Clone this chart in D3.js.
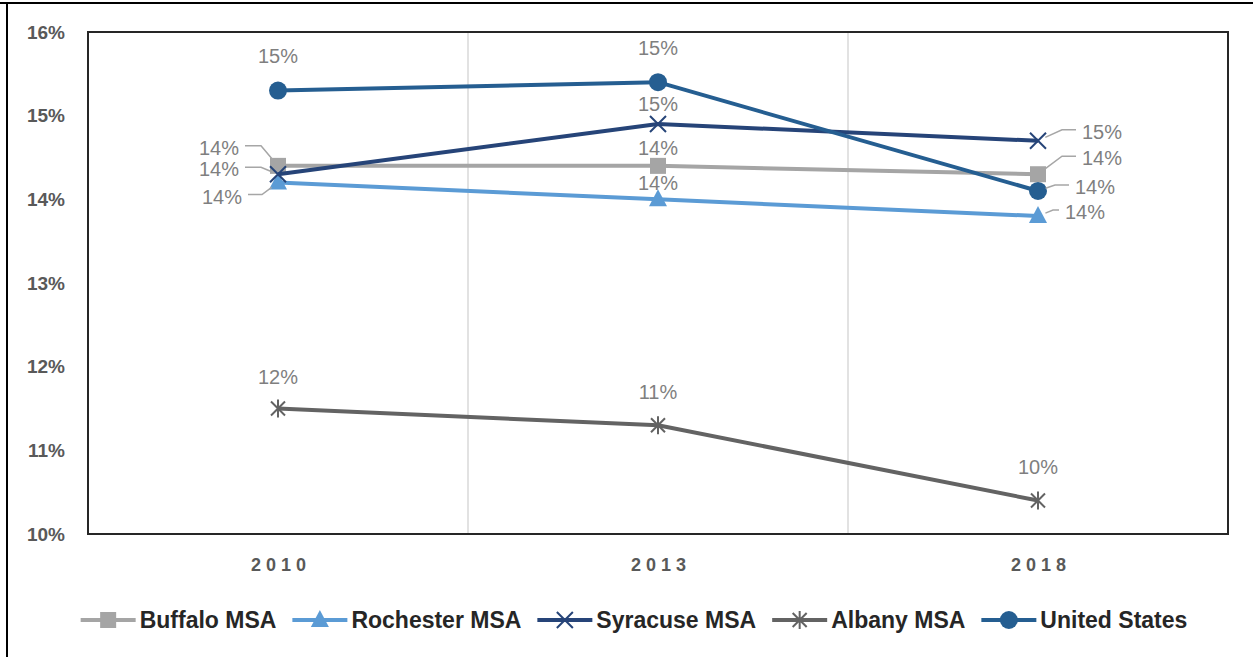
<!DOCTYPE html>
<html>
<head>
<meta charset="utf-8">
<script src="https://cdn.jsdelivr.net/npm/d3@7"></script>
<style>
  body { margin: 0; background: #fff; }
  svg { display: block; font-family: "Liberation Sans", Arial, sans-serif; }
</style>
</head>
<body>
<svg id="chart" width="1253" height="657"></svg>
<script>
// values (percent)
var years = ["2010", "2013", "2018"];
var buffalo = [14.4, 14.4, 14.3];
var rochester = [14.2, 14.0, 13.8];
var syracuse = [14.3, 14.9, 14.7];
var albany = [11.5, 11.3, 10.4];
var unitedStates = [15.3, 15.4, 14.1];
var yTicks = [10, 11, 12, 13, 14, 15, 16];
var seriesNames = ["Buffalo MSA", "Rochester MSA", "Syracuse MSA", "Albany MSA", "United States"];

// label placement per point: [dx, dy, side, leader length]
var labelPos = {
    "Buffalo MSA":   [[-39, -18, "L", 16], [0, -18, "", 0], [44, -16, "R", 14]],
    "Rochester MSA": [[-36, 14, "L", 14], [0, -16, "", 0], [27, -4, "R", 6]],
    "Syracuse MSA":  [[-39, -5, "L", 16], [0, -20, "", 0], [44, -9, "R", 14]],
    "Albany MSA":    [[0, -32, "", 0], [0, -33, "", 0], [0, -34, "", 0]],
    "United States": [[0, -35, "", 0], [0, -34, "", 0], [37, -4, "R", 14]]
};

var series = [
    {name: seriesNames[0], values: buffalo, color: "#a5a5a5", marker: "square"},
    {name: seriesNames[1], values: rochester, color: "#5b9bd5", marker: "triangle"},
    {name: seriesNames[2], values: syracuse, color: "#264478", marker: "x"},
    {name: seriesNames[3], values: albany, color: "#636363", marker: "star"},
    {name: seriesNames[4], values: unitedStates, color: "#255e91", marker: "circle"}
];

var margin = {top: 32, right: 25, bottom: 123, left: 88},
    width = 1253 - margin.left - margin.right,
    height = 657 - margin.top - margin.bottom;

var root = d3.select("#chart");

// outer frame (top + left edge)
root.append("line").attr("x1", 0).attr("x2", 1253).attr("y1", 3).attr("y2", 3)
    .style("stroke", "#000").style("stroke-width", 2);
root.append("line").attr("x1", 7).attr("x2", 7).attr("y1", 3).attr("y2", 657)
    .style("stroke", "#000").style("stroke-width", 2);

var svg = root.append("g")
    .attr("transform", "translate(" + margin.left + "," + margin.top + ")");

var x = d3.scaleBand().domain(years).range([0, width]);
var y = d3.scaleLinear().domain([10, 16]).range([height, 0]);

// vertical gridlines between categories
svg.selectAll(".grid")
    .data(years.slice(1))
    .enter()
    .append("line")
    .attr("x1", d => x(d)).attr("x2", d => x(d))
    .attr("y1", 0).attr("y2", height)
    .style("stroke", "#d9d9d9").style("stroke-width", 1.5);

// plot border
svg.append("rect")
    .attr("width", width).attr("height", height)
    .style("fill", "none").style("stroke", "#262626").style("stroke-width", 2);

// y axis
var yAxis = svg.append("g")
    .call(d3.axisLeft(y).tickValues(yTicks).tickSize(0).tickPadding(23).tickFormat(d => d + "%"));
yAxis.select(".domain").remove();
yAxis.selectAll("text")
    .style("font-size", "19px").style("font-weight", "bold").style("fill", "#595959")
    .style("font-family", "'Liberation Sans', Arial, sans-serif");

// x axis
var xAxis = svg.append("g")
    .attr("transform", "translate(0," + height + ")")
    .call(d3.axisBottom(x).tickSize(0).tickPadding(24));
xAxis.select(".domain").remove();
xAxis.selectAll("text")
    .attr("dx", "3px")
    .style("font-size", "18px").style("font-weight", "bold").style("fill", "#595959")
    .style("letter-spacing", "5px")
    .style("font-family", "'Liberation Sans', Arial, sans-serif");

function drawMarker(g, type, color) {
    if (type === "square") {
        g.append("rect").attr("x", -8).attr("y", -8).attr("width", 16).attr("height", 16)
            .style("fill", color);
    } else if (type === "triangle") {
        g.append("path").attr("d", "M0,-10L9,7L-9,7Z").style("fill", color);
    } else if (type === "circle") {
        g.append("circle").attr("r", 9).style("fill", color);
    } else if (type === "x") {
        g.append("path").attr("d", "M-8,-8L8,8M-8,8L8,-8")
            .style("stroke", color).style("stroke-width", 2).style("fill", "none");
    } else if (type === "star") {
        g.append("path").attr("d", "M-7,-7L7,7M-7,7L7,-7M0,-9L0,9")
            .style("stroke", color).style("stroke-width", 2).style("fill", "none");
    }
}

var line = d3.line()
    .x((d, i) => x(years[i]) + x.bandwidth() / 2)
    .y(d => y(d));

// lines + markers, in legend order so later series sit on top
series.forEach(function (s) {
    var g = svg.append("g");
    g.append("path")
        .datum(s.values)
        .attr("d", line)
        .style("fill", "none").style("stroke", s.color).style("stroke-width", 4)
        .style("stroke-linejoin", "round");
    s.values.forEach(function (v, i) {
        var m = g.append("g")
            .attr("transform", "translate(" + (x(years[i]) + x.bandwidth() / 2) + "," + y(v) + ")");
        drawMarker(m, s.marker, s.color);
    });
});

// data labels
var labels = svg.append("g");
series.forEach(function (s) {
    s.values.forEach(function (v, i) {
        var px = x(years[i]) + x.bandwidth() / 2, py = y(v);
        var p = labelPos[s.name][i];
        var tx = px + p[0], ty = py + p[1];
        labels.append("text")
            .attr("x", tx).attr("y", ty).attr("dy", "0.35em")
            .attr("text-anchor", p[2] === "L" ? "end" : (p[2] === "R" ? "start" : "middle"))
            .style("font-size", "20px").style("fill", "#7f7f7f")
            .text(Math.round(v) + "%");
        if (p[2]) {
            var dir = p[2] === "L" ? 1 : -1;
            var sx = tx + dir * 6, sy = ty - 2;
            var ex = sx + dir * p[3];
            var ddx = ex - px, ddy = sy - py, len = Math.sqrt(ddx * ddx + ddy * ddy);
            var k = Math.min(8, len * 0.6) / len;
            labels.append("path")
                .attr("d", "M" + sx + "," + sy + "L" + ex + "," + sy + "L" + (px + ddx * k) + "," + (py + ddy * k))
                .style("fill", "none").style("stroke", "#a6a6a6").style("stroke-width", 1.5);
        }
    });
});

// legend, centred below the plot
var legend = root.append("g").attr("transform", "translate(0,620)");
var items = [], cursor = 0;
series.forEach(function (s) {
    var it = legend.append("g");
    it.append("line").attr("x1", 0).attr("x2", 55).attr("y1", 0).attr("y2", 0)
        .style("stroke", s.color).style("stroke-width", 4);
    var m = it.append("g").attr("transform", "translate(27.5,0)");
    drawMarker(m, s.marker, s.color);
    var t = it.append("text").attr("x", 59).attr("dy", "0.36em")
        .style("font-size", "23px").style("font-weight", "bold").style("fill", "#262626")
        .text(s.name);
    var w = 59 + t.node().getComputedTextLength();
    items.push({g: it, x: cursor});
    cursor += w + 16;
});
var total = cursor - 16;
var start = 634 - total / 2;
items.forEach(function (d) {
    d.g.attr("transform", "translate(" + (start + d.x) + ",0)");
});
</script>
</body>
</html>
